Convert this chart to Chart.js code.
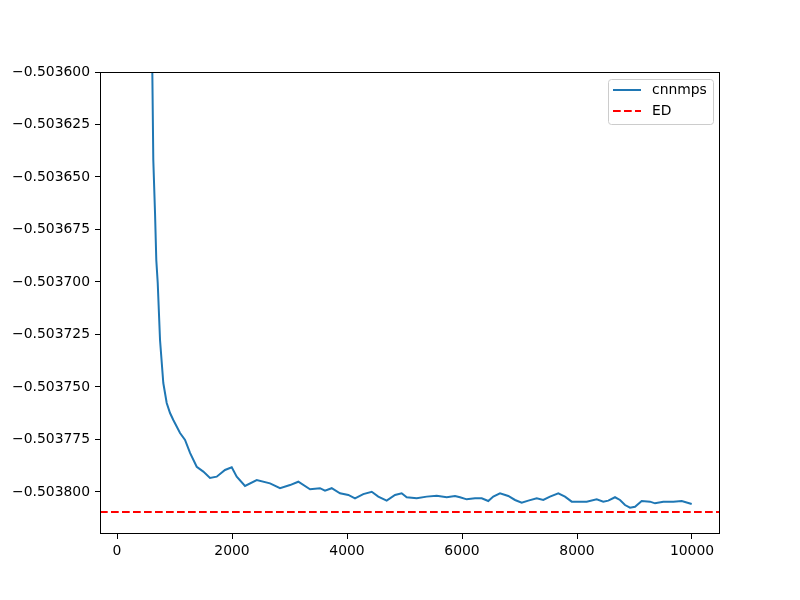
<!DOCTYPE html>
<html>
<head>
<meta charset="utf-8">
<script src="https://cdn.jsdelivr.net/npm/chart.js@4"></script>
<style>
  html, body { margin: 0; padding: 0; background: #ffffff; }
  #wrap { width: 800px; height: 600px; }
</style>
</head>
<body>
<div id="wrap"><canvas id="c" width="800" height="600"></canvas></div>
<script>
// ---- data ----
const steps = [200, 400, 550, 614, 631, 661, 683, 708, 748, 805, 864, 922, 979, 1096, 1183, 1270, 1386, 1501, 1617, 1734, 1878, 1995, 2082, 2226, 2430, 2661, 2835, 3009, 3153, 3357, 3530, 3617, 3734, 3878, 4023, 4139, 4283, 4430, 4544, 4690, 4835, 4951, 5038, 5212, 5386, 5560, 5734, 5878, 5965, 6082, 6226, 6343, 6457, 6544, 6661, 6805, 6922, 7038, 7153, 7299, 7414, 7530, 7675, 7791, 7908, 8023, 8169, 8343, 8457, 8544, 8661, 8748, 8835, 8922, 9009, 9125, 9270, 9357, 9501, 9675, 9821, 9995];
const cnnmps = [-0.50250, -0.50320, -0.50350, -0.5036000, -0.5036419, -0.5036671, -0.5036895, -0.5037005, -0.5037276, -0.5037481, -0.5037576, -0.5037624, -0.5037657, -0.5037719, -0.5037752, -0.5037814, -0.5037880, -0.5037903, -0.5037933, -0.5037927, -0.5037895, -0.5037882, -0.5037927, -0.5037971, -0.5037943, -0.5037959, -0.5037982, -0.5037967, -0.5037951, -0.5037987, -0.5037982, -0.5037994, -0.5037982, -0.5038006, -0.5038014, -0.5038030, -0.5038010, -0.5037999, -0.5038022, -0.5038041, -0.5038014, -0.5038006, -0.5038025, -0.5038030, -0.5038022, -0.5038018, -0.5038025, -0.5038019, -0.5038025, -0.5038035, -0.5038030, -0.5038030, -0.5038043, -0.5038022, -0.5038006, -0.5038019, -0.5038038, -0.5038051, -0.5038041, -0.5038030, -0.5038038, -0.5038022, -0.5038006, -0.5038022, -0.5038046, -0.5038046, -0.5038046, -0.5038035, -0.5038046, -0.5038041, -0.5038025, -0.5038038, -0.5038062, -0.5038075, -0.5038070, -0.5038043, -0.5038046, -0.5038054, -0.5038046, -0.5038046, -0.5038043, -0.5038057];
const edValue = -0.5038095;
const xRange = [-296, 10487];
const yRange = [-0.50382, -0.5036];
const xTicks = [0, 2000, 4000, 6000, 8000, 10000];
const yTicks = [-0.5038, -0.503775, -0.50375, -0.503725, -0.5037, -0.503675, -0.50365, -0.503625, -0.5036];
const seriesNames = ['cnnmps', 'ED'];

// ---- build ----
const FONT = '"DejaVu Sans", sans-serif';
const FS = 13.9;
const blue = '#1f77b4';
const red = '#ff0000';
const dash = [7.7, 3.3];

const cnnData = steps.map((s, i) => ({ x: s, y: cnnmps[i] }));
const edData = [{ x: xRange[0], y: edValue }, { x: xRange[1], y: edValue }];

function fmtY(v) {
  const s = Math.abs(v).toFixed(6);
  return (v < 0 ? '\u2212' : '') + s;
}

const framePlugin = {
  id: 'frameLegend',
  afterDatasetsDraw(chart) {
    const ctx = chart.ctx;
    const a = chart.chartArea;
    ctx.save();
    ctx.strokeStyle = '#000';
    ctx.lineWidth = 1;
    ctx.strokeRect(Math.round(a.left) + 0.5, Math.round(a.top) + 0.5,
                   Math.round(a.right - a.left) - 1, Math.round(a.bottom - a.top) - 1);

    // legend
    const lx = 608.5, ly = 79.5, lw = 105, lh = 45, r = 3;
    ctx.beginPath();
    ctx.moveTo(lx + r, ly);
    ctx.lineTo(lx + lw - r, ly);
    ctx.quadraticCurveTo(lx + lw, ly, lx + lw, ly + r);
    ctx.lineTo(lx + lw, ly + lh - r);
    ctx.quadraticCurveTo(lx + lw, ly + lh, lx + lw - r, ly + lh);
    ctx.lineTo(lx + r, ly + lh);
    ctx.quadraticCurveTo(lx, ly + lh, lx, ly + lh - r);
    ctx.lineTo(lx, ly + r);
    ctx.quadraticCurveTo(lx, ly, lx + r, ly);
    ctx.closePath();
    ctx.fillStyle = 'rgba(255,255,255,0.8)';
    ctx.fill();
    ctx.strokeStyle = '#cccccc';
    ctx.lineWidth = 1;
    ctx.stroke();

    const entries = [
      { name: seriesNames[0], color: blue, dash: [], y: 90 },
      { name: seriesNames[1], color: red, dash: dash, y: 111 }
    ];
    entries.forEach(e => {
      ctx.beginPath();
      ctx.setLineDash(e.dash);
      ctx.strokeStyle = e.color;
      ctx.lineWidth = 2;
      ctx.moveTo(613, e.y);
      ctx.lineTo(641, e.y);
      ctx.stroke();
      ctx.setLineDash([]);
      ctx.fillStyle = '#000';
      ctx.font = FS + 'px ' + FONT;
      ctx.textBaseline = 'middle';
      ctx.textAlign = 'left';
      ctx.fillText(e.name, 652, e.y);
    });
    ctx.restore();
  }
};

new Chart(document.getElementById('c'), {
  type: 'line',
  data: {
    datasets: [
      { label: seriesNames[0], data: cnnData, borderColor: blue, borderWidth: 2, pointRadius: 0, tension: 0, fill: false, clip: 0 },
      { label: seriesNames[1], data: edData, borderColor: red, borderWidth: 2, borderDash: dash, pointRadius: 0, tension: 0, fill: false, clip: 0 }
    ]
  },
  options: {
    responsive: false,
    animation: false,
    devicePixelRatio: 1,
    layout: { padding: { top: 72, right: 80, left: 0, bottom: 0 } },
    plugins: { legend: { display: false }, tooltip: { enabled: false } },
    scales: {
      x: {
        type: 'linear',
        min: xRange[0], max: xRange[1],
        border: { display: false },
        grid: { drawOnChartArea: false, drawTicks: true, tickLength: 5, color: '#000', tickWidth: 1 },
        afterBuildTicks: s => { s.ticks = xTicks.map(v => ({ value: v })); },
        afterFit: s => { s.height = 66; },
        ticks: { color: '#000', font: { family: FONT, size: FS }, padding: 4, maxRotation: 0, callback: v => String(v) }
      },
      y: {
        type: 'linear',
        min: yRange[0], max: yRange[1],
        border: { display: false },
        grid: { drawOnChartArea: false, drawTicks: true, tickLength: 5, color: '#000', tickWidth: 1 },
        afterBuildTicks: s => { s.ticks = yTicks.map(v => ({ value: v })); },
        afterFit: s => { s.width = 100; },
        ticks: { color: '#000', font: { family: FONT, size: FS }, padding: 5, callback: v => fmtY(v) }
      }
    }
  },
  plugins: [framePlugin]
});
</script>
</body>
</html>
